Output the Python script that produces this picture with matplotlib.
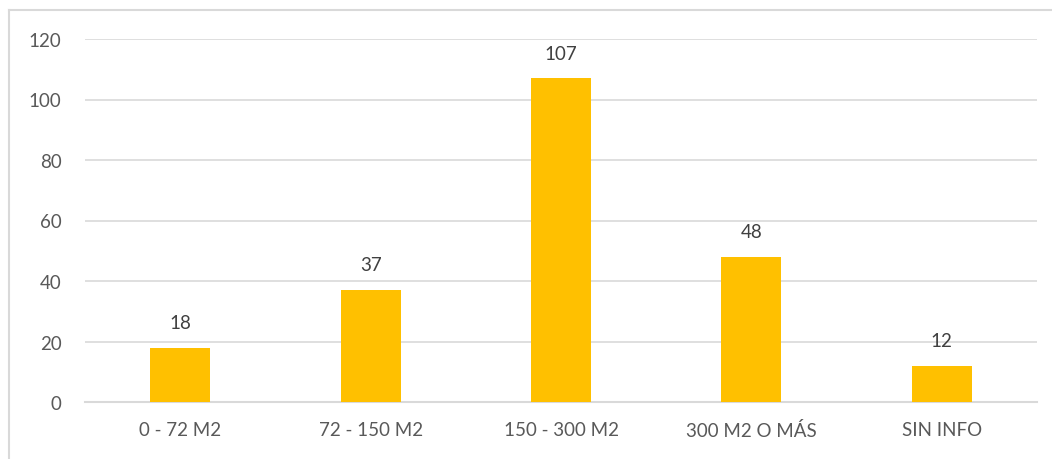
import matplotlib.pyplot as plt
from matplotlib.lines import Line2D
import numpy as np

# Data
categories = ['0 - 72 M2', '72 - 150 M2', '150 - 300 M2', '300 M2 O MÁS', 'SIN INFO']
values = [18, 37, 107, 48, 12]
yticks = [0, 20, 40, 60, 80, 100, 120]

plt.rcParams['font.family'] = ['Lato', 'DejaVu Sans']

fig = plt.figure(figsize=(10.52, 4.6), dpi=100)
ax = fig.add_axes([85 / 1052, 1 - 403 / 460, 952 / 1052, 363 / 460])

# chart area frame, cut off on the right and bottom like the source
fx, fy = 8.5 / 1052, 1 - 11 / 460
fig.lines.append(Line2D([fx, fx], [0, fy], transform=fig.transFigure,
                        color='#d9d9d9', linewidth=1.5))
fig.lines.append(Line2D([fx, 1], [fy, fy], transform=fig.transFigure,
                        color='#d9d9d9', linewidth=1.5))

x = np.arange(len(categories))
bars = ax.bar(x, values, width=0.315, color='#FFC000', zorder=3)

for bar, v in zip(bars, values):
    ax.annotate(str(v), xy=(bar.get_x() + bar.get_width() / 2, v),
                xytext=(0, 12), textcoords='offset points',
                ha='center', va='bottom', fontsize=13.5, color='#404040')

ax.set_xlim(-0.5, len(categories) - 0.5)
ax.set_ylim(0, 120)
ax.set_yticks(yticks)
ax.set_xticks(x)
ax.set_xticklabels(categories)
ax.tick_params(axis='both', length=0, labelsize=13.5, colors='#595959')
ax.tick_params(axis='y', pad=17)
ax.tick_params(axis='x', pad=14)
ax.grid(axis='y', color='#d9d9d9', linewidth=1.2, zorder=0)
ax.set_axisbelow(True)
for s in ['top', 'right', 'left']:
    ax.spines[s].set_visible(False)
ax.spines['bottom'].set_color('#d9d9d9')
ax.spines['bottom'].set_linewidth(1.5)

fig.savefig('out.png', dpi=100)
